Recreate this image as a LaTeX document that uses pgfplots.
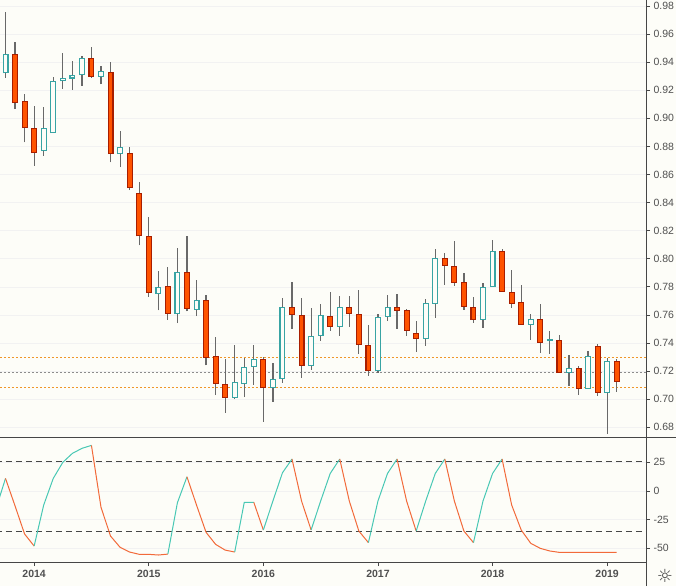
\documentclass[border=0pt]{standalone}
\usepackage{fontspec}
\setmainfont{Liberation Sans}
\newfontfamily\symfont{DejaVu Sans}
\usepackage{pgfplots}
\pgfplotsset{compat=1.18}
\usepackage{pgfplotstable}
\definecolor{bg}{RGB}{253,253,248}
\definecolor{upc}{RGB}{56,164,164}
\definecolor{dnfill}{RGB}{255,83,0}
\definecolor{dnbord}{RGB}{168,30,0}
\definecolor{wick}{RGB}{105,105,105}
\definecolor{oscup}{RGB}{72,200,180}
\definecolor{oscdn}{RGB}{242,106,58}
\definecolor{lvlor}{RGB}{240,150,40}
\definecolor{lvlgr}{RGB}{140,140,140}
\definecolor{axgray}{RGB}{70,70,70}
\definecolor{txt}{RGB}{80,80,80}

\pgfplotstableread{
k o h l c
0 0.932 0.9755 0.929 0.9456
4 0.8767 0.908 0.8735 0.893
5 0.8894 0.9293 0.8894 0.9264
6 0.9264 0.9468 0.921 0.9286
7 0.9283 0.9409 0.9203 0.9307
8 0.9307 0.9444 0.9233 0.9428
10 0.9293 0.9373 0.9244 0.9338
12 0.8745 0.8911 0.8653 0.8796
16 0.775 0.7916 0.7633 0.78
18 0.7608 0.8079 0.7541 0.7906
20 0.7636 0.785 0.7591 0.7707
24 0.7008 0.7389 0.70 0.7121
25 0.7107 0.7295 0.7015 0.723
26 0.723 0.7387 0.7102 0.7287
28 0.7079 0.7258 0.6982 0.7144
29 0.7144 0.7721 0.7116 0.7657
32 0.7237 0.765 0.7209 0.7451
33 0.7451 0.7678 0.7416 0.76
35 0.7515 0.7735 0.7451 0.7657
39 0.7202 0.7607 0.7188 0.7586
40 0.7586 0.7742 0.7558 0.7657
44 0.743 0.7714 0.738 0.7686
45 0.7679 0.807 0.7579 0.8006
50 0.7565 0.7829 0.7508 0.78
51 0.78 0.8134 0.78 0.8056
55 0.7529 0.7607 0.7422 0.7572
57 0.7413 0.7486 0.7323 0.7427
59 0.7188 0.7316 0.7095 0.7222
61 0.7074 0.7344 0.7074 0.7309
63 0.7046 0.7294 0.6755 0.7273
}\upc

\pgfplotstableread{
k o h l c
1 0.9456 0.9542 0.9065 0.9108
2 0.9122 0.9172 0.8828 0.893
3 0.893 0.9089 0.8664 0.8752
9 0.9428 0.9508 0.9286 0.9293
11 0.9331 0.9402 0.8686 0.8745
13 0.8752 0.8797 0.8489 0.8503
14 0.8468 0.8548 0.8095 0.8159
15 0.8162 0.83 0.7728 0.7757
17 0.7809 0.7944 0.7567 0.7608
19 0.7906 0.8164 0.7626 0.7643
21 0.7707 0.7745 0.7241 0.7294
22 0.7306 0.7446 0.7029 0.7107
23 0.7107 0.7283 0.6905 0.7008
27 0.7287 0.7301 0.6839 0.7079
30 0.7657 0.7835 0.75 0.76
31 0.76 0.7721 0.7152 0.7237
34 0.7593 0.7764 0.7486 0.7515
36 0.7657 0.7735 0.7515 0.7607
37 0.7607 0.7778 0.7323 0.7387
38 0.7387 0.7529 0.7166 0.7202
41 0.7657 0.7749 0.75 0.7629
42 0.7636 0.7643 0.7451 0.7486
43 0.7472 0.7558 0.7338 0.743
46 0.8006 0.8041 0.7815 0.795
47 0.795 0.8127 0.7807 0.7829
48 0.7836 0.79 0.7636 0.7657
49 0.7657 0.7728 0.7544 0.7565
52 0.8056 0.807 0.7764 0.7764
53 0.7764 0.792 0.765 0.7679
54 0.7693 0.7815 0.7529 0.7529
56 0.7572 0.7679 0.7331 0.7401
58 0.7422 0.7458 0.7188 0.7188
60 0.7222 0.7237 0.7031 0.7074
62 0.738 0.7394 0.7025 0.7046
64 0.7273 0.7287 0.7053 0.7123
}\dnc

\pgfplotstableread{
k v
-1 -15.5
0 11
1 -13
2 -37.5
3 -48
4 -12.2
5 11
6 25
7 32.8
8 37.2
9 39.8
10 -14.2
11 -39.3
12 -49.1
13 -53.2
14 -55.2
15 -55.2
16 -55.8
17 -55
18 -10.2
19 12.4
20 -12.2
21 -36
22 -46.5
23 -51.5
24 -53.2
25 -9.9
26 -9.9
27 -34
28 -8.7
29 15.9
30 27.9
31 -8.7
32 -34
33 -8.7
34 15.3
35 27.9
36 -8.7
37 -34.9
38 -45
39 -8.7
40 15.3
41 27.9
42 -8.7
43 -34.9
44 -8.7
45 15.3
46 27.9
47 -8.7
48 -34.9
49 -45
50 -8.7
51 15.3
52 27.9
53 -12.2
54 -34
55 -45.6
56 -50
57 -52.3
58 -53.5
59 -53.5
60 -53.5
61 -53.5
62 -53.5
63 -53.5
64 -53.5
}\osc

\pgfplotsset{
  mystyle/.style={
    scale only axis, anchor=south west,
    width=646.5pt,
    xmin=-0.576, xmax=67.12,
    axis line style={draw=axgray, line width=0.9pt, -},
    tick style={draw=axgray, line width=0.8pt},
    major tick length=3.5pt,
    tick align=outside,
    ymajorgrids,
    major grid style={draw=black!5, line width=0.6pt},
    yticklabel style={font=\fontsize{10.5}{12}\selectfont, text=txt, anchor=west},
    /pgf/number format/assume math mode=true,
  },
  oscU/.style={oscup, line width=1pt, mark=none},
  oscD/.style={oscdn, line width=1pt, mark=none},
  candle/.style 2 args={draw=none, mark=none, forget plot,
    error bars/.cd, y dir=plus, y explicit, error mark=none,
    error bar style={draw=#1, line width=#2, solid}},
}

\begin{document}
\begin{tikzpicture}
\useasboundingbox (0pt,0pt) rectangle (676pt,586pt);
\fill[bg] (0pt,0pt) rectangle (676pt,586pt);

\begin{axis}[mystyle,
  at={(0pt,148.5pt)}, height=437.5pt,
  ymin=0.6727, ymax=0.98427,
  axis x line=none, axis y line*=right,
  ytick={0.68,0.70,0.72,0.74,0.76,0.78,0.80,0.82,0.84,0.86,0.88,0.90,0.92,0.94,0.96,0.98},
  yticklabels={0.68,0.70,0.72,0.74,0.76,0.78,0.80,0.82,0.84,0.86,0.88,0.90,0.92,0.94,0.96,0.98},
]
\addplot [lvlor, line width=1pt, dash pattern=on 2.5pt off 1.5pt] coordinates {(-1,0.7295) (68,0.7295)};
\addplot [lvlgr, line width=1pt, dash pattern=on 2.5pt off 1.5pt] coordinates {(-1,0.7188) (68,0.7188)};
\addplot [lvlor, line width=1pt, dash pattern=on 2.5pt off 1.5pt] coordinates {(-1,0.7081) (68,0.7081)};
% wicks
\addplot [candle={wick}{1.2pt}]
  table [x=k, y=l, y error expr={\thisrow{h}-\thisrow{l}}] {\upc};
\addplot [candle={wick}{1.2pt}]
  table [x=k, y=l, y error expr={\thisrow{h}-\thisrow{l}}] {\dnc};
% up bodies
\addplot [candle={upc}{6pt}]
  table [x=k, y=o, y error expr={\thisrow{c}-\thisrow{o}}] {\upc};
\addplot [candle={bg}{3.6pt}]
  table [x=k, y expr={\thisrow{o}+0.00085}, y error expr={max(\thisrow{c}-\thisrow{o}-0.0017,0)}] {\upc};
% down bodies
\addplot [candle={dnbord}{6pt}]
  table [x=k, y=c, y error expr={\thisrow{o}-\thisrow{c}}] {\dnc};
\addplot [candle={dnfill}{3.8pt}]
  table [x=k, y expr={\thisrow{c}+0.00075}, y error expr={max(\thisrow{o}-\thisrow{c}-0.0015,0)}] {\dnc};
\end{axis}

\begin{axis}[mystyle,
  at={(0pt,23.3pt)}, height=125pt,
  ymin=-62.5, ymax=46.5,
  axis x line*=bottom, axis y line*=right,
  ytick={-50,-25,0,25}, yticklabels={-50,-25,0,25},
  xtick={3,15,27,39,51,63}, xticklabels={2014,2015,2016,2017,2018,2019},
  xticklabel style={font=\bfseries\fontsize{10.5}{12}\selectfont, text=txt},
]
\addplot [axgray, line width=0.9pt, dash pattern=on 6pt off 4pt] coordinates {(-1,26) (68,26)};
\addplot [axgray, line width=0.9pt, dash pattern=on 6pt off 4pt] coordinates {(-1,-35) (68,-35)};
\addplot [oscU, restrict x to domain=-1:0] table [x=k, y=v] {\osc};
\addplot [oscD, restrict x to domain=0:3] table [x=k, y=v] {\osc};
\addplot [oscU, restrict x to domain=3:9] table [x=k, y=v] {\osc};
\addplot [oscD, restrict x to domain=9:17] table [x=k, y=v] {\osc};
\addplot [oscU, restrict x to domain=17:19] table [x=k, y=v] {\osc};
\addplot [oscD, restrict x to domain=19:24] table [x=k, y=v] {\osc};
\addplot [oscU, restrict x to domain=24:26] table [x=k, y=v] {\osc};
\addplot [oscD, restrict x to domain=26:27] table [x=k, y=v] {\osc};
\addplot [oscU, restrict x to domain=27:30] table [x=k, y=v] {\osc};
\addplot [oscD, restrict x to domain=30:32] table [x=k, y=v] {\osc};
\addplot [oscU, restrict x to domain=32:35] table [x=k, y=v] {\osc};
\addplot [oscD, restrict x to domain=35:38] table [x=k, y=v] {\osc};
\addplot [oscU, restrict x to domain=38:41] table [x=k, y=v] {\osc};
\addplot [oscD, restrict x to domain=41:43] table [x=k, y=v] {\osc};
\addplot [oscU, restrict x to domain=43:46] table [x=k, y=v] {\osc};
\addplot [oscD, restrict x to domain=46:49] table [x=k, y=v] {\osc};
\addplot [oscU, restrict x to domain=49:52] table [x=k, y=v] {\osc};
\addplot [oscD, restrict x to domain=52:64] table [x=k, y=v] {\osc};
\end{axis}

\draw[axgray, line width=0.9pt] (0pt,148.5pt) -- (676pt,148.5pt);
\draw[axgray, line width=0.9pt] (646.5pt,0pt) -- (646.5pt,586pt);
\node[text=axgray, font=\symfont\fontsize{18}{18}\selectfont, inner sep=0pt] at (665pt,10pt) {☼};
\end{tikzpicture}
\end{document}
